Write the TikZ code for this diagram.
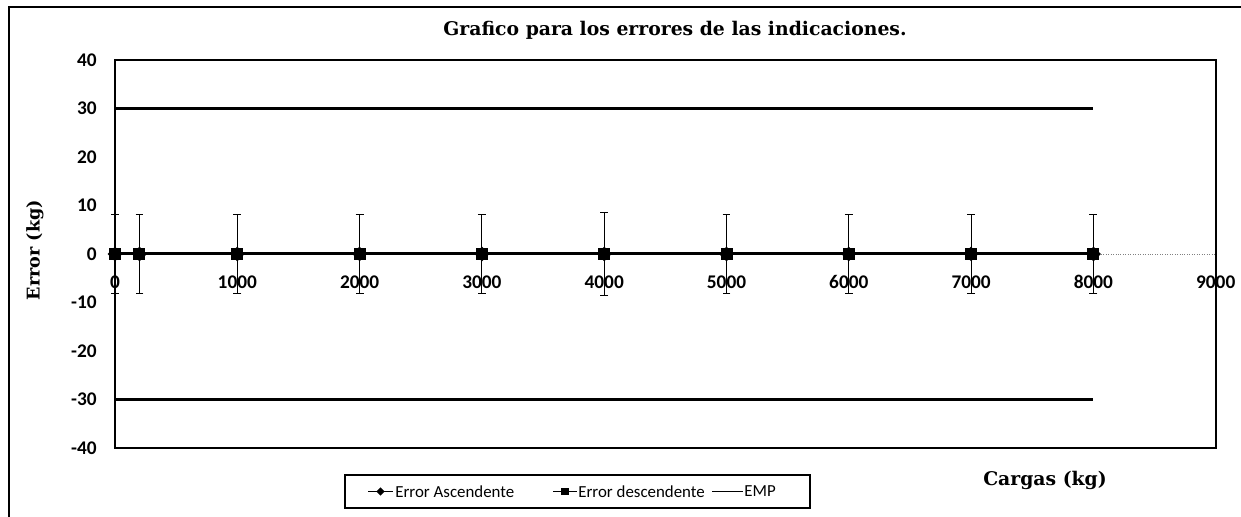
\documentclass[tikz,border=0pt]{standalone}
\usepackage{fontspec}
\setmainfont{Liberation Serif}
\newfontfamily\calibri{Carlito}
\newfontfamily\titfont{DejaVu Serif}
\usetikzlibrary{arrows.meta,shapes.geometric}

\tikzset{
	ylab/.style={anchor=east, inner sep=0pt, xshift=-0.36cm, font=\calibri\bfseries\fontsize{11}{13}\selectfont},
	xlab/.style={inner sep=0pt, font=\calibri\bfseries\fontsize{11}{13}\selectfont},
	errbar/.style={line width=0.5pt, {Bar[width=4.5pt]}-{Bar[width=4.5pt]}},
	emp/.style={line width=1.4pt},
	serie/.style={line width=1.7pt},
	cuad/.style={fill, rectangle, minimum size=0.24cm, inner sep=0pt},
	romb/.style={fill, diamond, minimum size=0.3cm, inner sep=0pt},
	legtext/.style={anchor=west, inner sep=0pt, font=\calibri\fontsize{9.6}{12}\selectfont},
}

\begin{document}
\begin{tikzpicture}

	\useasboundingbox (0,0) rectangle (24.82,10.34);
	\draw [line width=1pt] (0.18,-1) -- (0.18,10.2) -- (25,10.2); %outer frame, cut by the page

	\node (title) at (13.5,9.74) {\titfont\bfseries\fontsize{10.7}{13}\selectfont Grafico para los errores de las indicaciones.};
	\node (ytitle) [rotate=90] at (0.70,5.34) {\titfont\bfseries\fontsize{10}{12}\selectfont Error (kg)};
	\node (xtitle) at (20.9,0.74) {\titfont\bfseries\fontsize{10.7}{13}\selectfont Cargas (kg)};

	\begin{scope}[shift={(2.30,5.26)}, x=2.446cm, y=0.097cm]

	\draw [line width=1pt] (0,-40) rectangle (9,40);

	\node (y40) [ylab] at (0,40) {40};
	\node (y30) [ylab] at (0,30) {30};
	\node (y20) [ylab] at (0,20) {20};
	\node (y10) [ylab] at (0,10) {10};
	\node (y0) [ylab] at (0,0) {0};
	\node (ym10) [ylab] at (0,-10) {-10};
	\node (ym20) [ylab] at (0,-20) {-20};
	\node (ym30) [ylab] at (0,-30) {-30};
	\node (ym40) [ylab] at (0,-40) {-40};

	\draw [emp] (0,30) -- (8,30);
	\draw [emp] (0,-30) -- (8,-30);
	\draw [gray, densely dotted, line width=0.4pt] (8,0) -- (9,0);

	\draw [errbar] (0,-8.2) -- (0,8.2);
	\draw [errbar] (0.2,-8.2) -- (0.2,8.2);
	\draw [errbar] (1,-8.2) -- (1,8.2);
	\draw [errbar] (2,-8.2) -- (2,8.2);
	\draw [errbar] (3,-8.2) -- (3,8.2);
	\draw [errbar] (4,-8.6) -- (4,8.6);
	\draw [errbar] (5,-8.2) -- (5,8.2);
	\draw [errbar] (6,-8.2) -- (6,8.2);
	\draw [errbar] (7,-8.2) -- (7,8.2);
	\draw [errbar] (8,-8.2) -- (8,8.2);

	\draw [serie] (0,0) -- (8,0);

	\node (p0) [cuad] at (0,0) {};
	\node (p1) [cuad] at (0.2,0) {};
	\node (p2) [cuad] at (1,0) {};
	\node (p3) [cuad] at (2,0) {};
	\node (p4) [cuad] at (3,0) {};
	\node (p5) [cuad] at (4,0) {};
	\node (p6) [cuad] at (5,0) {};
	\node (p7) [cuad] at (6,0) {};
	\node (p8) [cuad] at (7,0) {};
	\node (p9) [cuad] at (8,0) {};
	\node (q0) [romb] at (0,0) {};
	\node (q1) [romb] at (0.2,0) {};
	\node (q2) [romb] at (1,0) {};
	\node (q3) [romb] at (2,0) {};
	\node (q4) [romb] at (3,0) {};
	\node (q5) [romb] at (4,0) {};
	\node (q6) [romb] at (5,0) {};
	\node (q7) [romb] at (6,0) {};
	\node (q8) [romb] at (7,0) {};
	\node (q9) [romb] at (8,0) {};

	\node (x0) [xlab] at (0,-5.8) {0};
	\node (x1) [xlab] at (1,-5.8) {1000};
	\node (x2) [xlab] at (2,-5.8) {2000};
	\node (x3) [xlab] at (3,-5.8) {3000};
	\node (x4) [xlab] at (4,-5.8) {4000};
	\node (x5) [xlab] at (5,-5.8) {5000};
	\node (x6) [xlab] at (6,-5.8) {6000};
	\node (x7) [xlab] at (7,-5.8) {7000};
	\node (x8) [xlab] at (8,-5.8) {8000};
	\node (x9) [xlab] at (9,-5.8) {9000};

	\end{scope}

	% legend
	\node (leg) [draw, line width=0.8pt, minimum width=9.3cm, minimum height=0.66cm] at (11.55,0.51) {};

	\coordinate (la1) at (7.36,0.51);
	\coordinate (lb1) at (7.86,0.51);
	\draw [line width=1pt] (la1) -- (lb1);
	\node (lm1) [romb, minimum size=0.17cm] at (7.61,0.51) {};
	\node (lt1) [legtext] at (7.90,0.51) {Error Ascendente};

	\coordinate (la2) at (11.06,0.51);
	\coordinate (lb2) at (11.54,0.51);
	\draw [line width=1pt] (la2) -- (lb2);
	\node (lm2) [cuad, minimum size=0.15cm] at (11.30,0.51) {};
	\node (lt2) [legtext] at (11.56,0.51) {Error descendente};

	\coordinate (la3) at (14.24,0.51);
	\coordinate (lb3) at (14.86,0.51);
	\draw [line width=0.8pt] (la3) -- (lb3);
	\node (lt3) [legtext] at (14.88,0.51) {EMP};

\end{tikzpicture}
\end{document}
